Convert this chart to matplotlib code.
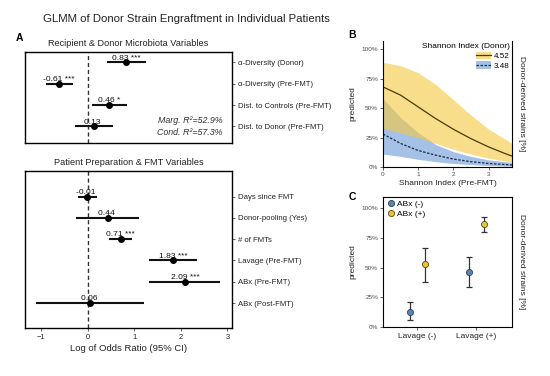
import matplotlib.pyplot as plt
import numpy as np
from matplotlib.patches import Patch
from matplotlib.lines import Line2D

plt.rcParams['font.family'] = ['Liberation Sans', 'DejaVu Sans']

W, H = 550, 376

# ---------------- data ----------------
# panel A, top: recipient & donor microbiota variables
top_names = ['α-Diversity (Donor)', 'α-Diversity (Pre-FMT)',
             'Dist. to Controls (Pre-FMT)', 'Dist. to Donor (Pre-FMT)']
top_est = [0.83, -0.61, 0.46, 0.13]
top_lo = [0.41, -0.90, 0.10, -0.28]
top_hi = [1.26, -0.31, 0.84, 0.55]
top_stars = ['***', '***', '*', '']

# panel A, bottom: patient preparation & FMT variables
bot_names = ['Days since FMT', 'Donor-pooling (Yes)', '# of FMTs',
             'Lavage (Pre-FMT)', 'ABx (Pre-FMT)', 'ABx (Post-FMT)']
bot_est = [-0.01, 0.44, 0.71, 1.83, 2.09, 0.06]
bot_lo = [-0.21, -0.24, 0.47, 1.32, 1.31, -1.10]
bot_hi = [0.20, 1.11, 0.96, 2.35, 2.85, 1.21]
bot_stars = ['', '', '***', '***', '***', '']

# panel B: predicted engraftment vs recipient Shannon index
shannon_x = [0, 0.5, 1.0, 1.5, 2.0, 2.5, 3.0, 3.5, 3.66]
hi_fit = [0.68, 0.61, 0.51, 0.41, 0.32, 0.24, 0.17, 0.11, 0.093]
hi_lo = [0.33, 0.29, 0.25, 0.20, 0.15, 0.11, 0.075, 0.05, 0.045]
hi_hi = [0.89, 0.86, 0.80, 0.70, 0.57, 0.44, 0.32, 0.23, 0.20]
lo_fit = [0.28, 0.20, 0.14, 0.10, 0.067, 0.045, 0.03, 0.02, 0.017]
lo_lo = [0.11, 0.09, 0.065, 0.045, 0.03, 0.02, 0.012, 0.008, 0.007]
lo_hi = [0.58, 0.42, 0.29, 0.19, 0.13, 0.09, 0.06, 0.045, 0.04]

# panel C: lavage x antibiotics
lavage = ['Lavage (-)', 'Lavage (+)']
abx_neg = [0.124, 0.46]
abx_neg_lo = [0.062, 0.333]
abx_neg_hi = [0.21, 0.59]
abx_pos = [0.527, 0.867]
abx_pos_lo = [0.375, 0.797]
abx_pos_hi = [0.667, 0.924]

YEL = '#F4C842'
BLU = '#5B8FD0'
GREY = '#4d4d4d'


def px_axes(fig, x0, y0, x1, y1):
    return fig.add_axes([x0 / W, 1 - y1 / H, (x1 - x0) / W, (y1 - y0) / H])


fig = plt.figure(figsize=(W / 100, H / 100), dpi=100)

fig.text(186 / W, 1 - 19 / H, 'GLMM of Donor Strain Engraftment in Individual Patients',
         ha='center', va='center', fontsize=8.2, color='#222222')
fig.text(19 / W, 1 - 38 / H, 'A', ha='center', va='center', fontsize=7.5, fontweight='bold')
fig.text(352 / W, 1 - 35 / H, 'B', ha='center', va='center', fontsize=7.5, fontweight='bold')
fig.text(352 / W, 1 - 197 / H, 'C', ha='center', va='center', fontsize=7.5, fontweight='bold')


def forest(ax, names, est, lo, hi, stars, ylim, title):
    n = len(names)
    ys = np.arange(n, 0, -1)
    ax.axvline(0, color='#333333', lw=1.0, ls=(0, (3, 2)), zorder=1)
    ax.hlines(ys, lo, hi, color='#111111', lw=1.5, zorder=2)
    ax.plot(est, ys, 'o', color='black', ms=4, zorder=3)
    for x, y, s in zip(est, ys, stars):
        ax.text(x, y + 0.13, f'{x:.2f} {s}', ha='center', va='baseline', fontsize=6.1, color='#111111')
    ax.set_xlim(-1.343, 3.10)
    ax.set_ylim(*ylim)
    ax.set_yticks(ys)
    ax.set_yticklabels(names)
    ax.yaxis.tick_right()
    ax.tick_params(axis='y', labelsize=5.6, length=2.5, width=0.6, pad=2, colors=GREY, labelcolor='#222222')
    for sp in ax.spines.values():
        sp.set_linewidth(1.0)
    ax.set_title(title, fontsize=6.6, pad=4.5, color='#222222')


ax1 = px_axes(fig, 25, 52, 232, 143)
forest(ax1, top_names, top_est, top_lo, top_hi, top_stars, (0.22, 4.49),
       'Recipient & Donor Microbiota Variables')
ax1.set_xticks([])
ax1.text(0.955, 0.25, 'Marg. R²=52.9%', transform=ax1.transAxes, ha='right', va='center',
         fontsize=6.4, style='italic', color='#333333')
ax1.text(0.955, 0.11, 'Cond. R²=57.3%', transform=ax1.transAxes, ha='right', va='center',
         fontsize=6.4, style='italic', color='#333333')

ax2 = px_axes(fig, 25, 171, 232, 328)
forest(ax2, bot_names, bot_est, bot_lo, bot_hi, bot_stars, (-0.17, 7.2),
       'Patient Preparation & FMT Variables')
ax2.set_xticks([-1, 0, 1, 2, 3])
ax2.tick_params(axis='x', labelsize=5.4, length=2.5, width=0.6, pad=2, colors=GREY, labelcolor='#222222')
ax2.set_xlabel('Log of Odds Ratio (95% CI)', fontsize=6.8, labelpad=2, color='#222222')

# ---------------- panel B ----------------
axb = px_axes(fig, 383, 41, 512, 167)
axb.fill_between(shannon_x, lo_lo, lo_hi, color=BLU, alpha=0.55, lw=0)
axb.fill_between(shannon_x, hi_lo, hi_hi, color=YEL, alpha=0.62, lw=0)
axb.plot(shannon_x, hi_fit, color='#4a3a05', lw=0.9)
axb.plot(shannon_x, lo_fit, color='#1d2c4a', lw=0.9, ls=(0, (2, 1.2)))
axb.set_xlim(0, 3.66)
axb.set_ylim(0, 1.07)
axb.set_xticks([0, 1, 2, 3])
axb.set_yticks([0, 0.25, 0.5, 0.75, 1.0])
axb.set_yticklabels(['0%', '25%', '50%', '75%', '100%'])
axb.spines['top'].set_visible(False)
axb.tick_params(labelsize=4.6, length=2, width=0.6, pad=1.5, colors=GREY)
axb.set_xlabel('Shannon Index (Pre-FMT)', fontsize=6.0, labelpad=2, color='#222222')
axb.set_ylabel('predicted', fontsize=6.0, labelpad=4, color='#222222')
for sp in axb.spines.values():
    sp.set_linewidth(0.8)
h_hi = (Patch(facecolor=YEL, alpha=0.62, lw=0), Line2D([], [], color='#4a3a05', lw=0.9))
h_lo = (Patch(facecolor=BLU, alpha=0.55, lw=0), Line2D([], [], color='#1d2c4a', lw=0.9, ls=(0, (2, 1.2))))
axb.legend([h_hi, h_lo], ['4.52', '3.48'], title='Shannon Index (Donor)', loc='upper right',
           frameon=False, fontsize=5.8, title_fontsize=6.0, alignment='right',
           handlelength=1.8, handleheight=1.1, labelspacing=0.15, borderaxespad=0.2,
           handletextpad=0.4, borderpad=0.1)
fig.text(522 / W, 1 - 104 / H, 'Donor-derived strains [%]', rotation=270, ha='center', va='center',
         fontsize=6.0, color='#222222')

# ---------------- panel C ----------------
axc = px_axes(fig, 383, 197, 512, 327)
pos = np.arange(1, len(lavage) + 1)
d = 0.128
axc.errorbar(pos - d, abx_neg,
             yerr=[np.subtract(abx_neg, abx_neg_lo), np.subtract(abx_neg_hi, abx_neg)],
             fmt='none', ecolor='#333333', elinewidth=0.9, capsize=2.5, capthick=0.9)
axc.errorbar(pos + d, abx_pos,
             yerr=[np.subtract(abx_pos, abx_pos_lo), np.subtract(abx_pos_hi, abx_pos)],
             fmt='none', ecolor='#333333', elinewidth=0.9, capsize=2.5, capthick=0.9)
axc.plot(pos - d, abx_neg, 'o', ms=4.4, mfc='#5A84B8', mec='#2d3e55', mew=0.6, label='ABx (-)')
axc.plot(pos + d, abx_pos, 'o', ms=4.4, mfc='#E6C33A', mec='#5a4a10', mew=0.6, label='ABx (+)')
axc.set_xlim(0.42, 2.6)
axc.set_ylim(0, 1.095)
axc.set_xticks(pos)
axc.set_xticklabels(lavage)
axc.set_yticks([0, 0.25, 0.5, 0.75, 1.0])
axc.set_yticklabels(['0%', '25%', '50%', '75%', '100%'])
axc.tick_params(axis='y', labelsize=4.6, length=2, width=0.6, pad=1.5, colors=GREY)
axc.tick_params(axis='x', labelsize=6.0, length=2, width=0.6, pad=2, colors=GREY, labelcolor='#222222')
axc.set_ylabel('predicted', fontsize=6.0, labelpad=4, color='#222222')
for sp in axc.spines.values():
    sp.set_linewidth(0.8)
axc.legend(loc='upper left', frameon=False, fontsize=6.0, handletextpad=0.3, labelspacing=0.25,
           borderaxespad=0.3, borderpad=0.1, handlelength=1.0)
fig.text(522 / W, 1 - 262 / H, 'Donor-derived strains [%]', rotation=270, ha='center', va='center',
         fontsize=6.0, color='#222222')

fig.savefig('out.png', dpi=100)
